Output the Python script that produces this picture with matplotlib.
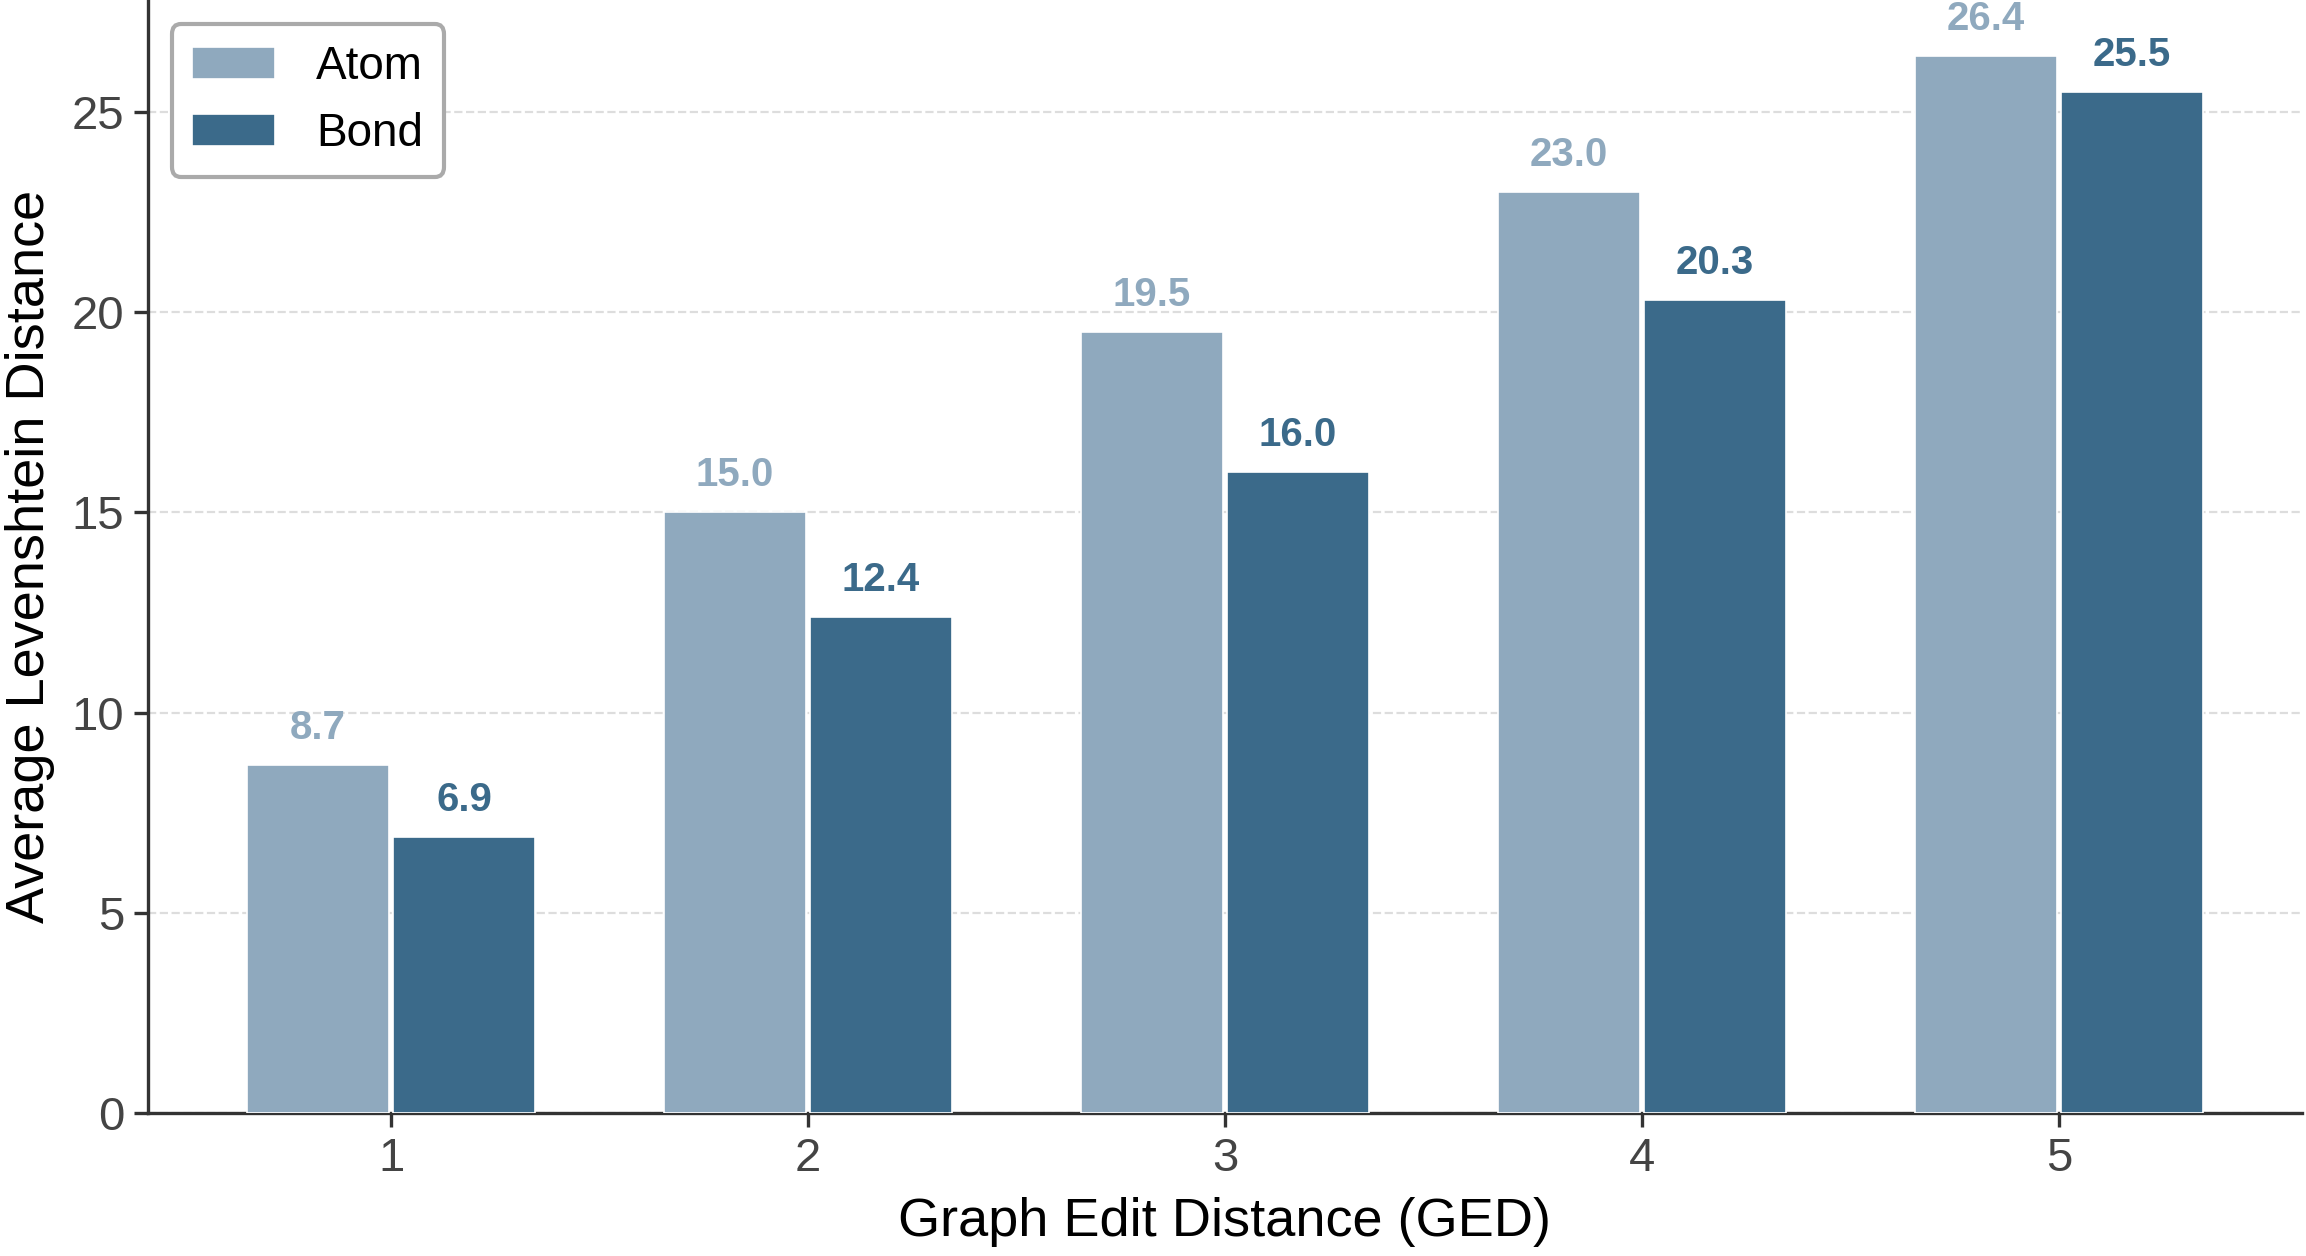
import matplotlib
matplotlib.use("Agg")
import matplotlib.pyplot as plt
import numpy as np

ged = [1, 2, 3, 4, 5]
atom = [8.7, 15.0, 19.5, 23.0, 26.4]
bond = [6.9, 12.4, 16.0, 20.3, 25.5]
series_names = ["Atom", "Bond"]
colors = ["#8FA9BE", "#3B6A8A"]

plt.rcParams['font.family'] = ['Liberation Sans', 'DejaVu Sans']

fig = plt.figure(figsize=(11.53, 6.28), dpi=200)
ax = fig.add_axes([0.0642, 0.1139, 0.934, 0.8861])

x = np.array(ged, dtype=float)
w = 0.34
for vals, name, c, off in [(atom, series_names[0], colors[0], -0.175),
                           (bond, series_names[1], colors[1], 0.175)]:
    ax.bar(x + off, vals, width=w, color=c, edgecolor='white', linewidth=0.6,
           label=name, zorder=3)
    for xi, v in zip(x + off, vals):
        ax.text(xi, v + 0.45, f"{v:.1f}", ha='center', va='bottom',
                fontsize=14.5, fontweight='bold', color=c, zorder=4)

ax.set_xlim(0.417, 5.583)
ax.set_ylim(0, 27.8)
ax.set_xticks(ged)
ax.set_yticks([0, 5, 10, 15, 20, 25])
ax.tick_params(axis='both', labelsize=17, colors='#333333', labelcolor='#444444',
               length=5, width=1.2)
ax.yaxis.grid(True, linestyle='--', color='#dddddd', linewidth=0.8, zorder=0)
ax.set_axisbelow(True)
for s in ['top', 'right']:
    ax.spines[s].set_visible(False)
for s in ['left', 'bottom']:
    ax.spines[s].set_color('#333333')
    ax.spines[s].set_linewidth(1.2)

ax.set_xlabel("Graph Edit Distance (GED)", fontsize=19.5, labelpad=6)
ax.set_ylabel("Average Levenshtein Distance", fontsize=19.5, labelpad=6)

leg = ax.legend(loc='upper left', fontsize=16.5, frameon=True, fancybox=True,
                edgecolor='#aaaaaa', framealpha=1, borderpad=0.45,
                handlelength=1.8, handletextpad=0.9, borderaxespad=0,
                bbox_to_anchor=(0.011, 0.978))
leg.get_frame().set_linewidth(1.5)

fig.savefig("out.png", dpi=200)
